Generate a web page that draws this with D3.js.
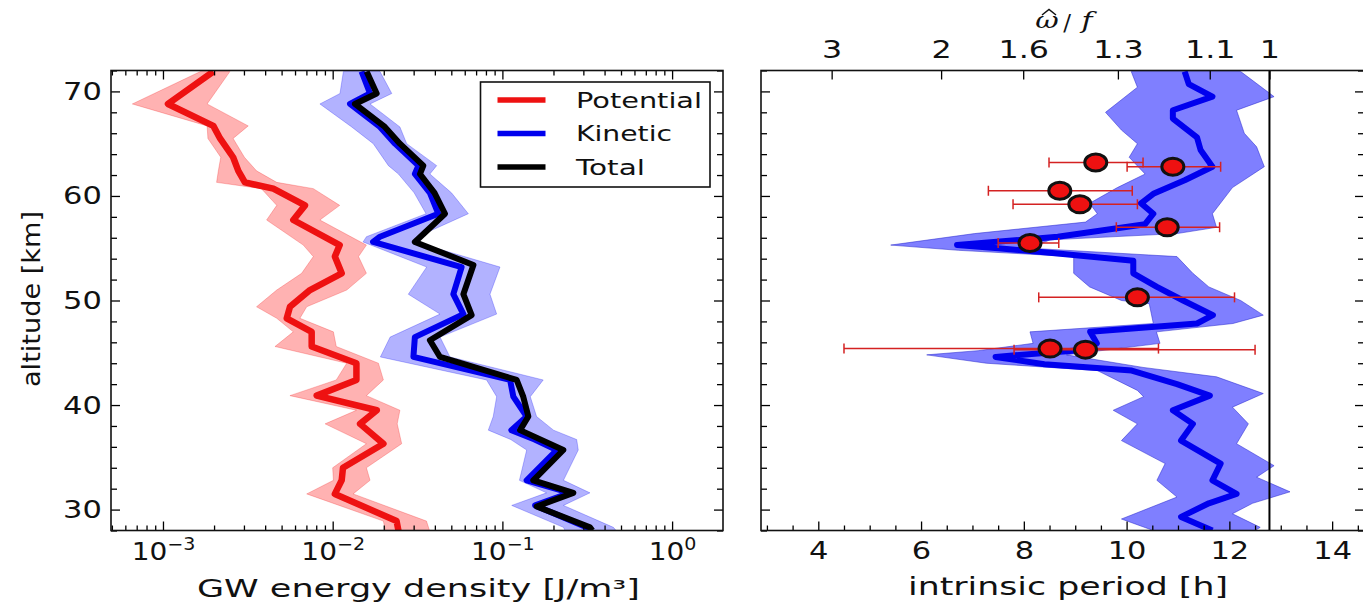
<!DOCTYPE html>
<html><head><meta charset="utf-8">
<script src="https://cdn.jsdelivr.net/npm/d3@7"></script>
<style>
body{margin:0;background:#fff;}
svg{display:block;font-family:"DejaVu Sans",sans-serif;}
</style></head><body>
<svg id="c" width="1363" height="606"></svg>
<script>
// ---------------- DATA ----------------
// Left panel: GW energy density [J/m^3] vs altitude [km]
const potAlt  = [71.9, 68.8, 66.7, 65.5, 63.7, 62.4, 61.3, 60.7, 59.1, 57.7, 55.3, 54.2, 52.6, 51.0, 49.4, 48.3, 47.0, 45.6, 44.0, 42.4, 40.9, 39.5, 38.2, 36.3, 34.0, 32.8, 31.5, 28.9, 28.0];
const potMean = [1.98e-3, 1.07e-3, 1.98e-3, 2.17e-3, 2.59e-3, 2.78e-3, 3.04e-3, 4.47e-3, 6.87e-3, 5.86e-3, 1.10e-2, 1.03e-2, 1.13e-2, 7.35e-3, 5.60e-3, 5.36e-3, 7.52e-3, 7.52e-3, 1.38e-2, 1.38e-2, 8.05e-3, 1.82e-2, 1.45e-2, 1.99e-2, 1.15e-2, 1.13e-2, 1.03e-2, 2.38e-2, 2.44e-2];
const potLo   = [1.66e-3, 6.6e-4, 1.82e-3, 1.84e-3, 2.19e-3, 2.12e-3, 2.07e-3, 3.80e-3, 4.68e-3, 4.08e-3, 6.71e-3, 7.69e-3, 6.56e-3, 4.68e-3, 3.56e-3, 4.68e-3, 5.86e-3, 4.57e-3, 1.21e-2, 1.05e-2, 5.60e-3, 1.38e-2, 9.02e-3, 1.58e-2, 1.00e-2, 1.01e-2, 7.03e-3, 1.99e-2, 2.04e-2];
const potHi   = [2.48e-3, 1.82e-3, 3.18e-3, 2.59e-3, 3.02e-3, 3.56e-3, 4.68e-3, 7.69e-3, 1.10e-2, 8.41e-3, 1.58e-2, 1.42e-2, 1.58e-2, 1.21e-2, 7.03e-3, 6.41e-3, 1.01e-2, 1.05e-2, 1.86e-2, 1.99e-2, 1.58e-2, 2.49e-2, 2.40e-2, 2.55e-2, 1.58e-2, 1.66e-2, 1.32e-2, 3.57e-2, 3.72e-2];

const kinAlt  = [71.9, 69.8, 68.8, 66.6, 65.0, 62.9, 62.1, 60.3, 58.3, 56.1, 55.6, 53.2, 50.6, 48.7, 46.5, 44.6, 42.4, 40.8, 38.9, 37.6, 36.7, 35.7, 32.8, 31.6, 30.4, 28.3, 28.0];
const kinMean = [0.0148, 0.0166, 0.01265, 0.0190, 0.0233, 0.0320, 0.0305, 0.0374, 0.0419, 0.0190, 0.0173, 0.0575, 0.0514, 0.0589, 0.0305, 0.0299, 0.111, 0.116, 0.139, 0.113, 0.155, 0.209, 0.139, 0.250, 0.156, 0.313, 0.324];
const kinLo   = [0.01156, 0.01104, 0.00841, 0.01294, 0.01734, 0.0213, 0.0244, 0.0302, 0.0355, 0.0158, 0.0151, 0.0358, 0.0279, 0.0429, 0.0218, 0.0191, 0.0807, 0.0925, 0.0883, 0.0826, 0.112, 0.139, 0.126, 0.182, 0.1135, 0.229, 0.234];
const kinHi   = [0.0190, 0.0223, 0.0166, 0.0249, 0.0273, 0.0410, 0.0374, 0.0501, 0.0630, 0.0316, 0.0305, 0.0968, 0.0845, 0.0925, 0.0429, 0.0491, 0.174, 0.146, 0.159, 0.200, 0.274, 0.280, 0.229, 0.328, 0.229, 0.451, 0.468];

const totAlt  = [71.9, 69.8, 68.8, 66.6, 65.0, 62.9, 62.1, 60.3, 58.3, 55.6, 53.4, 50.6, 48.6, 46.2, 44.6, 42.4, 40.8, 38.9, 37.6, 35.7, 32.8, 31.6, 30.3, 28.3, 28.0];
const totMean = [0.01585, 0.01816, 0.01352, 0.0203, 0.0249, 0.0342, 0.0327, 0.0398, 0.0459, 0.0305, 0.0675, 0.0589, 0.0659, 0.0374, 0.0429, 0.1213, 0.1327, 0.1422, 0.1271, 0.2286, 0.1521, 0.2618, 0.1592, 0.3281, 0.339];

// Right panel: intrinsic period [h] vs altitude [km]
const perAlt  = [71.9, 70.7, 69.5, 68.2, 67.4, 65.6, 64.4, 62.8, 61.5, 60.2, 59.3, 58.3, 57.3, 56.1, 55.3, 55.0, 54.5, 53.8, 52.6, 51.3, 50.0, 48.6, 47.8, 47.0, 45.9, 45.3, 44.6, 43.9, 43.3, 42.0, 40.9, 39.5, 38.2, 36.6, 34.4, 32.8, 31.5, 30.6, 29.3, 28.0];
const perMean = [11.13, 11.21, 11.67, 10.90, 10.90, 11.37, 11.44, 11.67, 11.13, 10.52, 10.28, 10.52, 10.36, 8.66, 6.70, 7.50, 8.66, 10.13, 10.13, 10.59, 11.10, 11.68, 11.37, 9.29, 9.42, 9.20, 7.45, 8.40, 10.10, 10.98, 11.62, 10.90, 11.29, 11.06, 11.83, 11.67, 12.14, 11.60, 11.06, 11.67];

const perLoAlt = [71.9, 70.4, 68.0, 66.3, 65.0, 63.7, 62.1, 60.8, 59.3, 58.3, 57.5, 56.4, 55.3, 54.8, 54.2, 52.6, 51.3, 50.0, 49.7, 47.8, 47.0, 45.9, 45.2, 44.8, 44.0, 43.3, 41.4, 40.8, 39.5, 38.2, 36.6, 34.4, 32.8, 31.2, 29.1, 28.0];
const perLo    = [10.09, 10.21, 9.59, 9.90, 10.21, 10.05, 10.36, 9.82, 9.28, 9.43, 9.20, 7.04, 5.41, 6.73, 8.97, 8.97, 9.28, 9.90, 10.44, 10.52, 8.12, 8.18, 7.11, 6.11, 7.27, 9.43, 10.21, 10.33, 9.74, 10.21, 9.90, 10.75, 10.59, 10.98, 9.90, 10.52];
const perHiAlt = [71.9, 69.5, 68.2, 66.0, 64.7, 62.8, 60.8, 58.3, 57.0, 56.4, 55.8, 55.0, 54.2, 52.6, 51.3, 50.0, 48.6, 47.8, 47.0, 45.9, 44.8, 43.6, 42.7, 41.1, 39.8, 38.2, 36.3, 34.2, 33.1, 31.7, 30.6, 29.6, 28.3, 28.0];
const perHi    = [12.22, 12.87, 12.14, 12.29, 12.53, 12.68, 12.06, 11.67, 11.75, 10.98, 8.51, 8.12, 10.98, 11.29, 11.60, 12.22, 12.66, 12.07, 10.58, 10.65, 8.83, 10.32, 11.75, 12.66, 12.06, 12.37, 12.14, 12.87, 12.53, 13.18, 12.45, 12.06, 12.60, 12.50];

const obsAlt    = [63.2, 62.8, 60.5, 59.2, 57.0, 55.5, 50.3, 45.4, 45.3];
const obsPeriod = [9.40, 10.90, 8.70, 9.09, 10.79, 8.12, 10.21, 8.51, 9.20];
const obsLo     = [8.49, 10.01, 7.31, 7.79, 9.80, 7.50, 8.29, 4.50, 7.81];
const obsHi     = [10.32, 11.83, 10.11, 10.21, 11.81, 8.68, 12.10, 10.62, 12.50];

const inertialPeriod = 12.78;   // h, where omega/f = 1

// Ticks and labels
const energyTicks = [1e-3, 1e-2, 1e-1, 1];
const energyTickExp = ["\u22123", "\u22122", "\u22121", "0"];
const altTicks = [30, 40, 50, 60, 70];
const altMinorTicks = [28, 32, 34, 36, 38, 42, 44, 46, 48, 52, 54, 56, 58, 62, 64, 66, 68, 72];
const periodTicks = [4, 6, 8, 10, 12, 14];
const periodMinorTicks = [3, 3.5, 4.5, 5, 5.5, 6.5, 7, 7.5, 8.5, 9, 9.5, 10.5, 11, 11.5, 12.5, 13, 13.5, 14.5];
const freqTicks = [3, 2, 1.6, 1.3, 1.1, 1];
const freqTickLabels = ["3", "2", "1.6", "1.3", "1.1", "1"];
const legendLabels = ["Potential", "Kinetic", "Total"];
const legendColors = ["#ee1111", "#0000ee", "#000000"];

// ---------------- LAYOUT ----------------
const svg = d3.select('#c');
const yTop = 70.5, yBot = 530.5;
const L = {x0: 111, x1: 723}, R = {x0: 761, x1: 1364};
const RED = "#ee1111", BLUE = "#0000ee";

const y = d3.scaleLinear().domain([28, 72]).range([yBot, yTop]);
const xE = d3.scaleLog().domain([4.94e-4, 1.995]).range([L.x0, L.x1]);
const xT = d3.scaleLinear().domain([2.885, 14.62]).range([R.x0, R.x1]);
const xW = d3.scalePow().exponent(-1).domain([inertialPeriod / 2.885, inertialPeriod / 14.62]).range([R.x0, R.x1]);

const defs = svg.append('defs');
defs.append('clipPath').attr('id', 'clipL').append('rect').attr('x', L.x0).attr('y', yTop).attr('width', L.x1 - L.x0).attr('height', yBot - yTop);
defs.append('clipPath').attr('id', 'clipR').append('rect').attr('x', R.x0).attr('y', yTop).attr('width', R.x1 - R.x0).attr('height', yBot - yTop);

// ---------------- LEFT PANEL ----------------
const gL = svg.append('g').attr('clip-path', 'url(#clipL)');
const zip = (a, b, c, d) => a.map((v, i) => ({a: v, m: b[i], lo: c ? c[i] : null, hi: d ? d[i] : null}));
const pot = zip(potAlt, potMean, potLo, potHi);
const kin = zip(kinAlt, kinMean, kinLo, kinHi);
const tot = zip(totAlt, totMean);

const bandE = d3.area().y(d => y(d.a)).x0(d => xE(d.lo)).x1(d => xE(d.hi));
const lineE = d3.line().y(d => y(d.a)).x(d => xE(d.m));

gL.append('path').attr('d', bandE(pot)).attr('fill', '#ff0000').attr('fill-opacity', 0.3)
  .attr('stroke', '#ee1111').attr('stroke-opacity', 0.25).attr('stroke-width', 1);
gL.append('path').attr('d', bandE(kin)).attr('fill', '#0000ff').attr('fill-opacity', 0.3)
  .attr('stroke', '#0000ee').attr('stroke-opacity', 0.25).attr('stroke-width', 1);
gL.append('path').attr('d', lineE(pot)).attr('fill', 'none').attr('stroke', RED).attr('stroke-width', 6.5).attr('stroke-linejoin', 'round');
gL.append('path').attr('d', lineE(kin)).attr('fill', 'none').attr('stroke', BLUE).attr('stroke-width', 6).attr('stroke-linejoin', 'round');
gL.append('path').attr('d', lineE(tot)).attr('fill', 'none').attr('stroke', '#000').attr('stroke-width', 6).attr('stroke-linejoin', 'round');

// ---------------- RIGHT PANEL ----------------
const gR = svg.append('g').attr('clip-path', 'url(#clipR)');
const loPts = perLoAlt.map((a, i) => ({a, t: perLo[i]}));
const hiPts = perHiAlt.map((a, i) => ({a, t: perHi[i]})).reverse();
const lineT = d3.line().x(d => xT(d.t)).y(d => y(d.a));
gR.append('path').attr('d', lineT(loPts.concat(hiPts)) + 'Z')
  .attr('fill', '#0000ff').attr('fill-opacity', 0.5).attr('stroke', '#2222cc').attr('stroke-opacity', 0.5).attr('stroke-width', 1);
gR.append('path').attr('d', lineT(perAlt.map((a, i) => ({a, t: perMean[i]}))))
  .attr('fill', 'none').attr('stroke', BLUE).attr('stroke-width', 6).attr('stroke-linejoin', 'round');
gR.append('line').attr('x1', xT(inertialPeriod)).attr('x2', xT(inertialPeriod)).attr('y1', yTop).attr('y2', yBot)
  .attr('stroke', '#000').attr('stroke-width', 2);

const obs = obsAlt.map((a, i) => ({a, t: obsPeriod[i], lo: obsLo[i], hi: obsHi[i]}));
const eb = gR.append('g').attr('stroke', '#d42222').attr('stroke-width', 1.5);
obs.forEach(d => {
  eb.append('line').attr('x1', xT(d.lo)).attr('x2', xT(d.hi)).attr('y1', y(d.a)).attr('y2', y(d.a));
  eb.append('line').attr('x1', xT(d.lo)).attr('x2', xT(d.lo)).attr('y1', y(d.a) - 5).attr('y2', y(d.a) + 5);
  eb.append('line').attr('x1', xT(d.hi)).attr('x2', xT(d.hi)).attr('y1', y(d.a) - 5).attr('y2', y(d.a) + 5);
});
gR.selectAll('ellipse.obs').data(obs).join('ellipse').attr('class', 'obs')
  .attr('cx', d => xT(d.t)).attr('cy', d => y(d.a)).attr('rx', 11).attr('ry', 8.5)
  .attr('fill', RED).attr('stroke', '#111').attr('stroke-width', 3);

// ---------------- AXES ----------------
function styleAxis(g) {
  g.select('.domain').remove();
  g.selectAll('.tick line').attr('stroke', '#000').attr('stroke-width', 1.3);
  g.attr('font-family', '"DejaVu Sans", sans-serif').attr('font-size', 25);
  g.selectAll('.tick text').attr('fill', '#111');
  return g;
}
const noLab = () => '';
const sx = 'scale(1.22,1)';

// left panel, bottom
const minorLog = [];
for (let k = -4; k <= 0; k++) for (let m = 2; m <= 9; m++) { const v = m * Math.pow(10, k); if (v > 4.94e-4 && v < 1.995) minorLog.push(v); }
const gxb = styleAxis(svg.append('g').attr('transform', `translate(0,${yBot})`)
  .call(d3.axisBottom(xE).tickValues(energyTicks).tickSizeInner(-9).tickSizeOuter(0).tickPadding(11.5).tickFormat(noLab)));
gxb.selectAll('.tick text').each(function (d, i) {
  const t = d3.select(this);
  t.text(null);
  t.append('tspan').text('10');
  t.append('tspan').attr('font-size', 17).attr('dy', -10).text(energyTickExp[i]);
}).attr('transform', 'scale(1.12,1)');
styleAxis(svg.append('g').attr('transform', `translate(0,${yBot})`)
  .call(d3.axisBottom(xE).tickValues(minorLog).tickSize(-5).tickFormat(noLab)));
styleAxis(svg.append('g').attr('transform', `translate(0,${yTop})`)
  .call(d3.axisTop(xE).tickValues(energyTicks).tickSize(-9).tickFormat(noLab)));
styleAxis(svg.append('g').attr('transform', `translate(0,${yTop})`)
  .call(d3.axisTop(xE).tickValues(minorLog).tickSize(-5).tickFormat(noLab)));
// left panel, y
const gyl = styleAxis(svg.append('g').attr('transform', `translate(${L.x0},0)`)
  .call(d3.axisLeft(y).tickValues(altTicks).tickSizeInner(-9).tickSizeOuter(0).tickPadding(7.5)));
gyl.selectAll('.tick text').attr('transform', sx);
styleAxis(svg.append('g').attr('transform', `translate(${L.x0},0)`)
  .call(d3.axisLeft(y).tickValues(altMinorTicks).tickSize(-6).tickFormat(noLab)));
styleAxis(svg.append('g').attr('transform', `translate(${L.x1},0)`)
  .call(d3.axisRight(y).tickValues(altTicks).tickSize(-9).tickFormat(noLab)));
styleAxis(svg.append('g').attr('transform', `translate(${L.x1},0)`)
  .call(d3.axisRight(y).tickValues(altMinorTicks).tickSize(-6).tickFormat(noLab)));

// right panel, bottom
const gxr = styleAxis(svg.append('g').attr('transform', `translate(0,${yBot})`)
  .call(d3.axisBottom(xT).tickValues(periodTicks).tickSizeInner(-9).tickSizeOuter(0).tickPadding(11).tickFormat(d3.format('d'))));
gxr.selectAll('.tick text').attr('transform', sx);
styleAxis(svg.append('g').attr('transform', `translate(0,${yBot})`)
  .call(d3.axisBottom(xT).tickValues(periodMinorTicks).tickSize(-5).tickFormat(noLab)));
// right panel, top (omega/f)
const gxt = styleAxis(svg.append('g').attr('transform', `translate(0,${yTop})`)
  .call(d3.axisTop(xW).tickValues(freqTicks).tickSizeInner(-9).tickSizeOuter(0).tickPadding(12.5).tickFormat((d, i) => freqTickLabels[i])));
gxt.selectAll('.tick text').attr('transform', 'scale(1.27,1)');
// right panel, y
styleAxis(svg.append('g').attr('transform', `translate(${R.x0},0)`)
  .call(d3.axisLeft(y).tickValues(altTicks).tickSize(-9).tickFormat(noLab)));
styleAxis(svg.append('g').attr('transform', `translate(${R.x0},0)`)
  .call(d3.axisLeft(y).tickValues(altMinorTicks).tickSize(-6).tickFormat(noLab)));
styleAxis(svg.append('g').attr('transform', `translate(${R.x1},0)`)
  .call(d3.axisRight(y).tickValues(altTicks).tickSize(-9).tickFormat(noLab)));
styleAxis(svg.append('g').attr('transform', `translate(${R.x1},0)`)
  .call(d3.axisRight(y).tickValues(altMinorTicks).tickSize(-6).tickFormat(noLab)));

// spines
svg.append('rect').attr('x', L.x0).attr('y', yTop).attr('width', L.x1 - L.x0).attr('height', yBot - yTop)
  .attr('fill', 'none').attr('stroke', '#111').attr('stroke-width', 1.6);
svg.append('rect').attr('x', R.x0).attr('y', yTop).attr('width', R.x1 - R.x0).attr('height', yBot - yTop)
  .attr('fill', 'none').attr('stroke', '#111').attr('stroke-width', 1.6);

// ---------------- LABELS ----------------
svg.append('text').attr('transform', 'translate(40,299) rotate(-90)').attr('text-anchor', 'middle')
  .attr('font-size', 25).attr('fill', '#111').attr('textLength', 176).attr('lengthAdjust', 'spacingAndGlyphs')
  .text('altitude [km]');
svg.append('text').attr('x', 418.5).attr('y', 597).attr('text-anchor', 'middle')
  .attr('font-size', 24).attr('fill', '#111').attr('textLength', 443).attr('lengthAdjust', 'spacingAndGlyphs')
  .text('GW energy density [J/m\u00B3]');
svg.append('text').attr('x', 1068).attr('y', 595).attr('text-anchor', 'middle')
  .attr('font-size', 24).attr('fill', '#111').attr('textLength', 320).attr('lengthAdjust', 'spacingAndGlyphs')
  .text('intrinsic period [h]');

// omega-hat / f title (hat drawn as a stroke over the omega)
const tt = svg.append('g').attr('font-family', '"DejaVu Serif", serif').attr('fill', '#111').attr('font-size', 23);
tt.append('text').attr('x', 1047).attr('y', 28).attr('text-anchor', 'middle').attr('font-style', 'italic')
  .attr('transform', 'translate(1047,0) scale(1.25,1) translate(-1047,0)').text('\u03C9');
tt.append('path').attr('d', 'M1042,15 L1049,9.5 L1056,15').attr('fill', 'none').attr('stroke', '#111').attr('stroke-width', 1.5);
tt.append('text').attr('x', 1067).attr('y', 30).attr('text-anchor', 'middle').text('/');
tt.append('text').attr('x', 1087).attr('y', 28).attr('text-anchor', 'middle').attr('font-style', 'italic')
  .attr('transform', 'translate(1087,0) scale(1.3,1) translate(-1087,0)').text('f');

// ---------------- LEGEND ----------------
const lg = svg.append('g');
lg.append('rect').attr('x', 480.5).attr('y', 82).attr('width', 229.5).attr('height', 105)
  .attr('fill', '#fff').attr('stroke', '#111').attr('stroke-width', 1.6);
const legY = [100, 133.5, 167];
const legLen = [126, 96, 69];
legendLabels.forEach((lab, i) => {
  lg.append('line').attr('x1', 497.5).attr('x2', 545.5).attr('y1', legY[i]).attr('y2', legY[i])
    .attr('stroke', legendColors[i]).attr('stroke-width', 5.5);
  lg.append('text').attr('x', 576).attr('y', legY[i] + 7.5).attr('font-size', 21.5).attr('fill', '#111')
    .attr('textLength', legLen[i]).attr('lengthAdjust', 'spacingAndGlyphs').text(lab);
});
</script>
</body></html>
